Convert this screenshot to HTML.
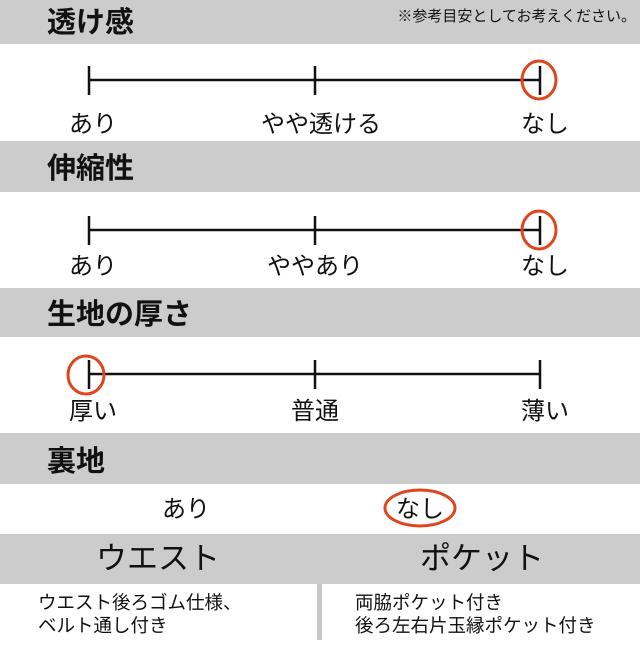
<!DOCTYPE html>
<html><head><meta charset="utf-8"><style>
body{margin:0;background:#fff}
svg text{font-family:"Liberation Sans","Noto Sans CJK JP",sans-serif;fill:#111}
</style></head><body>
<svg width="640" height="640" viewBox="0 0 640 640" xmlns="http://www.w3.org/2000/svg">
<rect width="640" height="640" fill="#fff"/>
<rect x="0" y="0" width="640" height="44" fill="#cccccc"/>
<rect x="0" y="141" width="640" height="51" fill="#cccccc"/>
<rect x="0" y="288" width="640" height="49" fill="#cccccc"/>
<rect x="0" y="433" width="640" height="51" fill="#cccccc"/>
<rect x="0" y="534" width="640" height="50" fill="#cccccc"/>
<rect x="317" y="584" width="5" height="56" fill="#c8c8c8"/>
<g font-weight="bold" font-size="29">
<text x="47" y="32">透け感</text>
<text x="47" y="178">伸縮性</text>
<text x="47" y="324">生地の厚さ</text>
<text x="47" y="471">裏地</text>
</g>
<text x="636" y="21" font-size="15" text-anchor="end">※参考目安としてお考えください。</text>
<g stroke="#111" stroke-width="2.5">
<line x1="89" y1="80" x2="540" y2="80"/><line x1="89" y1="66" x2="89" y2="95"/><line x1="315" y1="66" x2="315" y2="95"/><line x1="540" y1="66" x2="540" y2="95"/>
<line x1="89" y1="230" x2="540" y2="230"/><line x1="89" y1="216" x2="89" y2="245"/><line x1="315" y1="216" x2="315" y2="245"/><line x1="540" y1="216" x2="540" y2="245"/>
<line x1="89" y1="374" x2="540" y2="374"/><line x1="89" y1="360" x2="89" y2="389"/><line x1="315" y1="360" x2="315" y2="389"/><line x1="540" y1="360" x2="540" y2="389"/>
</g>
<g fill="none" stroke="#e0461e" stroke-width="3">
<ellipse cx="539" cy="80" rx="17" ry="19"/>
<ellipse cx="539" cy="230" rx="17" ry="19"/>
<ellipse cx="86" cy="375" rx="18" ry="19"/>
<ellipse cx="420" cy="508" rx="35" ry="18"/>
</g>
<g font-size="24" text-anchor="middle">
<text x="93" y="132">あり</text><text x="321" y="132">やや透ける</text><text x="545" y="132">なし</text>
<text x="93" y="274">あり</text><text x="315" y="274">ややあり</text><text x="545" y="274">なし</text>
<text x="93" y="419">厚い</text><text x="315" y="419">普通</text><text x="545" y="419">薄い</text>
<text x="186" y="517">あり</text><text x="420" y="517">なし</text>
</g>
<g font-size="31" text-anchor="middle">
<text x="158" y="569">ウエスト</text><text x="482" y="569">ポケット</text>
</g>
<g font-size="18.5">
<text x="38" y="609">ウエスト後ろゴム仕様、</text>
<text x="38" y="632">ベルト通し付き</text>
<text x="355" y="609">両脇ポケット付き</text>
<text x="355" y="632">後ろ左右片玉縁ポケット付き</text>
</g>
</svg>
</body></html>
